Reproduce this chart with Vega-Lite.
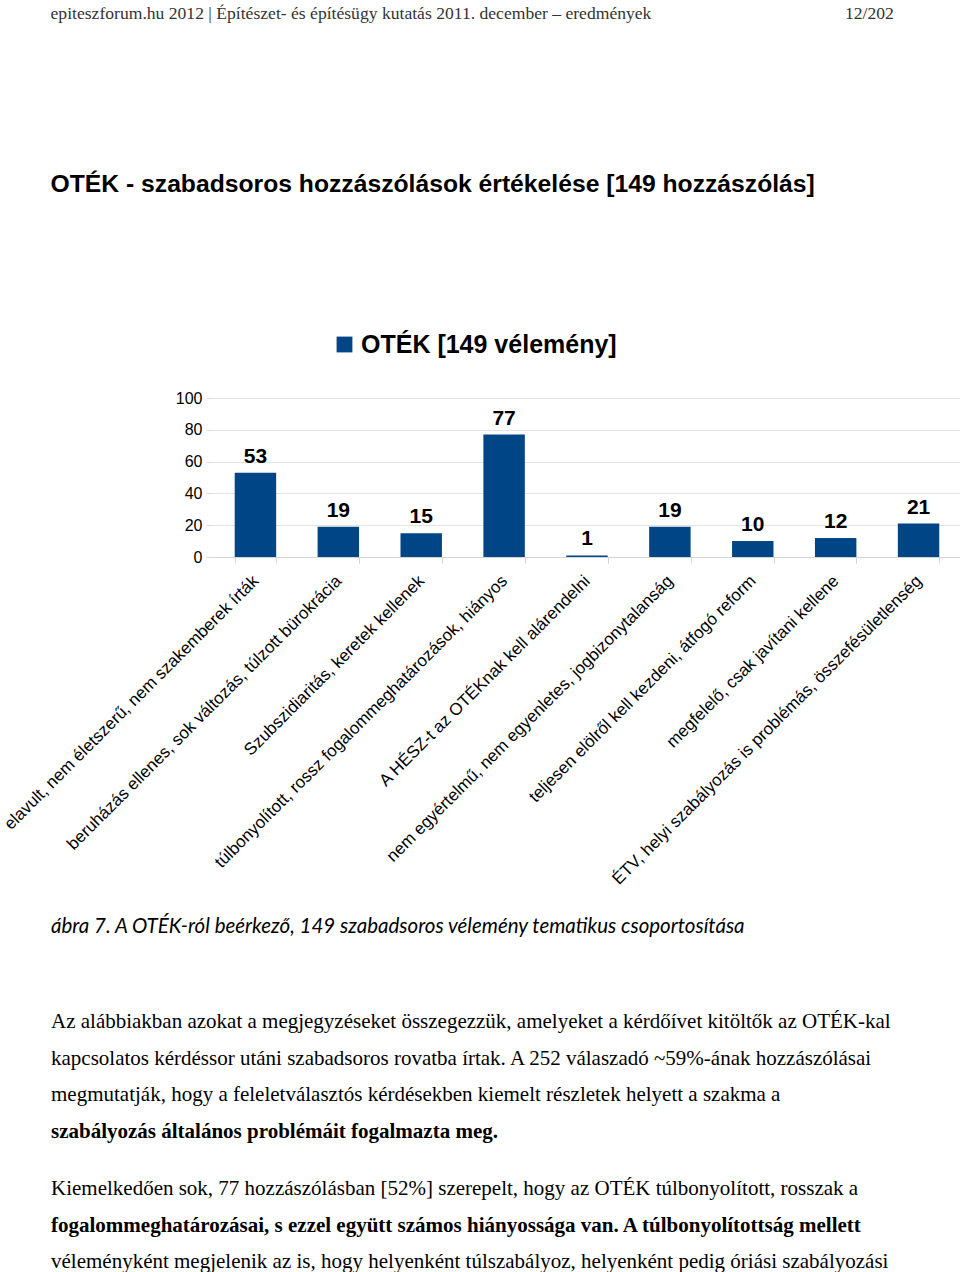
{
  "$schema": "https://vega.github.io/schema/vega-lite/v6.json",
  "padding": {"left": 0, "top": 4, "right": 0, "bottom": 0},
  "background": "white",
  "config": {"view": {"stroke": null}, "font": "Liberation Sans"},
  "title": {
    "text": "epiteszforum.hu 2012 | Építészet- és építésügy kutatás 2011. december – eredmények\u00a0\u00a0\u00a0\u00a0\u00a0\u00a0\u00a0\u00a0\u00a0\u00a0\u00a0\u00a0\u00a0\u00a0\u00a0\u00a0\u00a0\u00a0\u00a0\u00a0\u00a0\u00a0\u00a0\u00a0\u00a0\u00a0\u00a0\u00a0\u00a0\u00a0\u00a0\u00a0\u00a0\u00a0\u00a0\u00a0\u00a0\u00a0\u00a0\u00a0\u00a0\u00a0\u00a0\u00a012/202",
    "anchor": "start", "frame": "bounds", "dx": 50, "offset": 150,
    "font": "Liberation Serif", "fontSize": 17.6, "fontWeight": "normal", "color": "#333333"
  },
  "spacing": 0,
  "vconcat": [
    {
      "width": 746,
      "height": 159,
      "title": {
        "text": "OTÉK - szabadsoros hozzászólások értékelése [149 hozzászólás]",
        "anchor": "start", "frame": "bounds", "dx": 50, "offset": 193,
        "font": "Liberation Sans", "fontSize": 24.7, "fontWeight": "bold", "color": "#000000"
      },
      "data": {"values": [
        {"kategoria": "elavult, nem életszerű, nem szakemberek írták", "db": 53, "sorozat": "OTÉK [149 vélemény]"},
        {"kategoria": "beruházás ellenes, sok változás, túlzott bürokrácia", "db": 19, "sorozat": "OTÉK [149 vélemény]"},
        {"kategoria": "Szubszidiaritás, keretek kellenek", "db": 15, "sorozat": "OTÉK [149 vélemény]"},
        {"kategoria": "túlbonyolított, rossz fogalommeghatározások, hiányos", "db": 77, "sorozat": "OTÉK [149 vélemény]"},
        {"kategoria": "A HÉSZ-t az OTÉKnak kell alárendelni", "db": 1, "sorozat": "OTÉK [149 vélemény]"},
        {"kategoria": "nem egyértelmű, nem egyenletes, jogbizonytalanság", "db": 19, "sorozat": "OTÉK [149 vélemény]"},
        {"kategoria": "teljesen elölről kell kezdeni, átfogó reform", "db": 10, "sorozat": "OTÉK [149 vélemény]"},
        {"kategoria": "megfelelő, csak javítani kellene", "db": 12, "sorozat": "OTÉK [149 vélemény]"},
        {"kategoria": "ÉTV, helyi szabályozás is problémás, összefésületlenség", "db": 21, "sorozat": "OTÉK [149 vélemény]"}
      ]},
      "encoding": {
        "x": {
          "field": "kategoria", "type": "nominal", "sort": null,
          "scale": {"paddingInner": 0.5, "paddingOuter": 0.25},
          "axis": {
            "title": null, "labelAngle": -45, "labelAlign": "right", "labelBaseline": "middle",
            "labelFont": "Liberation Sans", "labelFontSize": 17, "labelColor": "#000000",
            "labelLimit": 600, "labelPadding": 15, "labelOverlap": false,
            "tickBand": "extent", "tickColor": "#d4d4d4", "tickSize": 6,
            "domain": true, "domainColor": "#d4d4d4", "grid": false
          }
        },
        "y": {
          "field": "db", "type": "quantitative", "scale": {"domain": [0, 100]},
          "axis": {
            "title": null, "values": [0, 20, 40, 60, 80, 100], "domain": false,
            "tickColor": "#dcdcdc", "tickSize": 8, "grid": true, "gridColor": "#e2e2e2",
            "labelFont": "Liberation Sans", "labelFontSize": 16, "labelColor": "#000000", "labelPadding": 4
          }
        }
      },
      "layer": [
        {
          "mark": {"type": "bar", "color": "#004586"},
          "encoding": {
            "color": {
              "field": "sorozat", "type": "nominal",
              "scale": {"range": ["#004586"]},
              "legend": {
                "title": null, "orient": "none", "legendX": 118, "legendY": -66,
                "symbolType": "square", "symbolSize": 250, "symbolStrokeWidth": 0,
                "labelFont": "Liberation Sans", "labelFontSize": 25, "labelFontWeight": "bold",
                "labelColor": "#000000", "labelLimit": 600
              }
            }
          }
        },
        {
          "mark": {"type": "text", "dy": -6, "baseline": "bottom", "font": "Liberation Sans", "fontSize": 21, "fontWeight": "bold", "color": "#000000"},
          "encoding": {
            "text": {"field": "db", "type": "quantitative"},
            "y": {
              "field": "db", "type": "quantitative",
              "axis": {"orient": "right", "labels": false, "ticks": false, "grid": false, "domain": true, "domainColor": "#e2e2e2", "title": null}
            }
          }
        }
      ],
      "resolve": {"axis": {"y": "independent"}}
    },
    {
      "width": 700, "height": 1,
      "data": {"values": []},
      "mark": "point",
      "title": {
        "text": "\u00a0",
        "subtitle": "ábra 7. A OTÉK-ról beérkező, 149 szabadsoros vélemény tematikus csoportosítása",
        "anchor": "start", "frame": "group", "dx": -163, "offset": 73,
        "font": "Lato", "fontSize": 4, "color": "#000000",
        "subtitleFont": "Lato", "subtitleFontSize": 20.5, "subtitleFontStyle": "italic", "subtitleFontWeight": "normal",
        "subtitleColor": "#000000", "subtitlePadding": 24
      }
    },
    {
      "width": 700, "height": 1,
      "data": {"values": []},
      "mark": "point",
      "title": {
        "text": [
          "Az alábbiakban azokat a megjegyzéseket összegezzük, amelyeket a kérdőívet kitöltők az OTÉK-kal",
          "kapcsolatos kérdéssor utáni szabadsoros rovatba írtak. A 252 válaszadó ~59%-ának hozzászólásai",
          "megmutatják, hogy a feleletválasztós kérdésekben kiemelt részletek helyett a szakma a"
        ],
        "anchor": "start", "frame": "group", "dx": -163, "offset": 15,
        "font": "Liberation Serif", "fontSize": 21, "fontWeight": "normal", "color": "#000000", "lineHeight": 36.5
      }
    },
    {
      "width": 700, "height": 1,
      "data": {"values": []},
      "mark": "point",
      "title": {
        "text": "szabályozás általános problémáit fogalmazta meg.",
        "anchor": "start", "frame": "group", "dx": -163, "offset": 35,
        "font": "Liberation Serif", "fontSize": 21, "fontWeight": "bold", "color": "#000000"
      }
    },
    {
      "width": 700, "height": 1,
      "data": {"values": []},
      "mark": "point",
      "title": {
        "text": "Kiemelkedően sok, 77 hozzászólásban [52%] szerepelt, hogy az OTÉK túlbonyolított, rosszak a",
        "anchor": "start", "frame": "group", "dx": -163, "offset": 14,
        "font": "Liberation Serif", "fontSize": 21, "fontWeight": "normal", "color": "#000000"
      }
    },
    {
      "width": 700, "height": 1,
      "data": {"values": []},
      "mark": "point",
      "title": {
        "text": "fogalommeghatározásai, s ezzel együtt számos hiányossága van. A túlbonyolítottság mellett",
        "subtitle": "véleményként megjelenik az is, hogy helyenként túlszabályoz, helyenként pedig óriási szabályozási",
        "anchor": "start", "frame": "group", "dx": -163, "offset": 10,
        "font": "Liberation Serif", "fontSize": 21, "fontWeight": "bold", "color": "#000000",
        "subtitleFont": "Liberation Serif", "subtitleFontSize": 21, "subtitleColor": "#000000", "subtitlePadding": 15.5
      }
    }
  ]
}
